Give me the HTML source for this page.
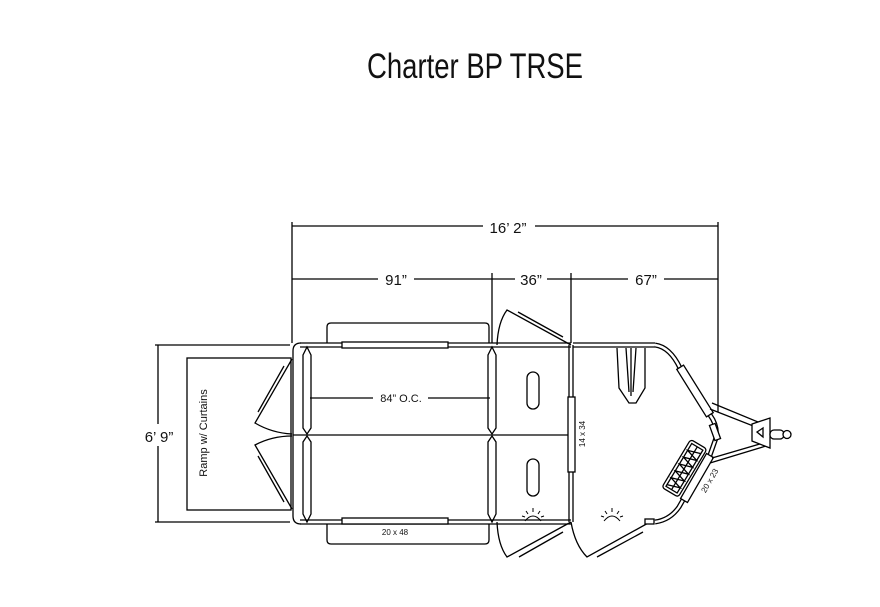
<!DOCTYPE html>
<html><head><meta charset="utf-8"><style>body{margin:0;background:#fff}svg{display:block}</style></head><body>
<svg width="880" height="607" viewBox="0 0 880 607" xmlns="http://www.w3.org/2000/svg" font-family="Liberation Sans, sans-serif">
<text x="367" y="78" font-size="35" textLength="216" lengthAdjust="spacingAndGlyphs" fill="#111">Charter BP TRSE</text>
<g stroke="#000" stroke-width="1.3" fill="none">
<!-- dimension lines -->
<line x1="292" y1="226" x2="718" y2="226"/>
<line x1="292" y1="279" x2="718" y2="279"/>
<line x1="292" y1="222" x2="292" y2="343"/>
<line x1="718" y1="222" x2="718" y2="412"/>
<line x1="492" y1="273" x2="492" y2="343"/>
<line x1="571" y1="273" x2="571" y2="343"/>
<line x1="158" y1="345" x2="158" y2="522"/>
<line x1="155" y1="345" x2="290" y2="345"/>
<line x1="155" y1="522" x2="290" y2="522"/>
<!-- ramp -->
<rect x="187" y="358" width="104" height="152"/>
<path d="M292 359 L255 423 Q272 433 292 434 M284 366 L258 412"/>
<path d="M292 509 L255 445 Q272 436 292 436 M284 502 L258 456"/>
<!-- body -->
<path d="M300 343 L571 343 M300 347 L571 347 M300 520 L571 520 M300 524 L571 524"/>
<path d="M301 343 Q293 343 293 351 L293 516 Q293 524 301 524"/>
<line x1="293" y1="435" x2="571" y2="435"/>
<path d="M327 343 L327 327 Q327 323 331 323 L485 323 Q489 323 489 327 L489 343"/>
<path d="M327 524 L327 540 Q327 544 331 544 L485 544 Q489 544 489 540 L489 524"/>
<rect x="342" y="342" width="106" height="6" fill="#fff"/>
<rect x="342" y="518" width="106" height="6" fill="#fff"/>
<path d="M307 347 L311 355 L311 428 L307 434 L303 428 L303 355 Z"/>
<path d="M307 436 L311 442 L311 514 L307 522 L303 514 L303 442 Z"/>
<path d="M492 347 L496 355 L496 428 L492 434 L488 428 L488 355 Z"/>
<path d="M492 436 L496 442 L496 514 L492 522 L488 514 L488 442 Z"/>
<line x1="310" y1="398" x2="373" y2="398"/>
<line x1="428" y1="398" x2="490" y2="398"/>
<!-- dressing area -->
<path d="M497 345 Q498 322 507 310 L571 345"/>
<line x1="518" y1="312" x2="563" y2="337"/>
<path d="M497 522 Q498 545 507 557 L571 522"/>
<line x1="519" y1="557" x2="563" y2="532"/>
<rect x="527" y="372" width="12" height="37" rx="6"/>
<rect x="527" y="459" width="12" height="37" rx="6"/>
<line x1="569" y1="345" x2="569" y2="522"/>
<line x1="573" y1="345" x2="573" y2="522"/>
<rect x="568" y="397" width="7" height="75" fill="#fff"/>
<!-- front -->
<path d="M573 343 L655 343 M573 347 L655 347"/>
<path d="M571 522 Q575 545 587 557 L650 522"/>
<line x1="597" y1="557" x2="643" y2="532"/>
<rect x="645" y="519" width="9" height="5" fill="#fff"/>
</g>
<!-- double walls of nose -->
<g fill="none" stroke-linecap="butt">
<path id="w" d="M655 345 Q670 347 680 368 L710 415 Q718 426 716 438 L710 455 L683 500 L679 507 Q670 520 655 522" stroke="#000" stroke-width="5"/>
<path d="M655 345 Q670 347 680 368 L710 415 Q718 426 716 438 L710 455 L683 500 L679 507 Q670 520 655 522" stroke="#fff" stroke-width="2.4"/>
</g>
<g stroke="#000" stroke-width="1.3" fill="#fff">
<g transform="rotate(58 695 391)"><rect x="667" y="387" width="56" height="8"/></g>
<g transform="rotate(-60 697 478)"><rect x="671" y="474" width="52" height="8"/></g>
<g transform="rotate(70 715 432)"><rect x="707" y="429" width="16" height="6"/></g>
<!-- spare tire -->
<g transform="rotate(-59 684 468)">
<rect x="656" y="459" width="56" height="19" rx="3"/>
<rect x="659" y="462" width="50" height="13" fill="none"/>
<path d="M661 462 L665 475 L669 462 L673 475 L677 462 L681 475 L685 462 L689 475 L693 462 L697 475 L701 462 L705 475" fill="none"/>
<line x1="659" y1="468.5" x2="709" y2="468.5"/>
</g>
</g>
<g stroke="#000" stroke-width="1.3" fill="none">
<!-- saddle rack -->
<path d="M617 348 L619 388 L629 403 L636 403 L645 388 L645 348"/>
<path d="M626 348 L629 392 M631 348 L631 396 M636 348 L633 392"/>
<!-- tongue -->
<path d="M712 403 L770 427 M710 409 L766 431"/>
<path d="M712 458 L770 441 M710 463 L766 446"/>
<path d="M752 424 L770 418 L770 448 L752 441 Z" fill="#fff"/>
<path d="M757 432 L763 428 L763 437 Z"/>
<rect x="770" y="430" width="14" height="9" rx="4" fill="#fff"/>
<circle cx="787" cy="434.5" r="4" fill="#fff"/>
</g>
<!-- suns -->
<g stroke="#000" stroke-width="1" fill="none">
<path d="M525 521 Q533 511 541 521 M533 508 L533 512 M526 511 L528 514 M540 511 L538 514 M522 516 L525 517 M544 516 L541 517"/>
<path d="M604 521 Q612 511 620 521 M612 508 L612 512 M605 511 L607 514 M619 511 L617 514 M601 516 L604 517 M623 516 L620 517"/>
</g>
<g fill="#111">
<rect x="483" y="215" width="52" height="20" fill="#fff"/>
<text x="508" y="233" font-size="15" text-anchor="middle">16’ 2”</text>
<rect x="378" y="268" width="36" height="20" fill="#fff"/>
<text x="396" y="285" font-size="15" text-anchor="middle">91”</text>
<rect x="515" y="268" width="32" height="20" fill="#fff"/>
<text x="531" y="285" font-size="15" text-anchor="middle">36”</text>
<rect x="628" y="268" width="36" height="20" fill="#fff"/>
<text x="646" y="285" font-size="15" text-anchor="middle">67”</text>
<rect x="140" y="424" width="40" height="22" fill="#fff"/>
<text x="159" y="442" font-size="15" text-anchor="middle">6’ 9”</text>
<text x="401" y="402" font-size="11" text-anchor="middle">84” O.C.</text>
<text x="395" y="535" font-size="8" text-anchor="middle">20 x 48</text>
<text transform="translate(207 433) rotate(-90)" font-size="11" text-anchor="middle">Ramp w/ Curtains</text>
<text transform="translate(585 434) rotate(-90)" font-size="8" text-anchor="middle">14 x 34</text>
<text transform="translate(712 482) rotate(-60)" font-size="8" text-anchor="middle">20 x 23</text>
</g>
</svg>
</body></html>
